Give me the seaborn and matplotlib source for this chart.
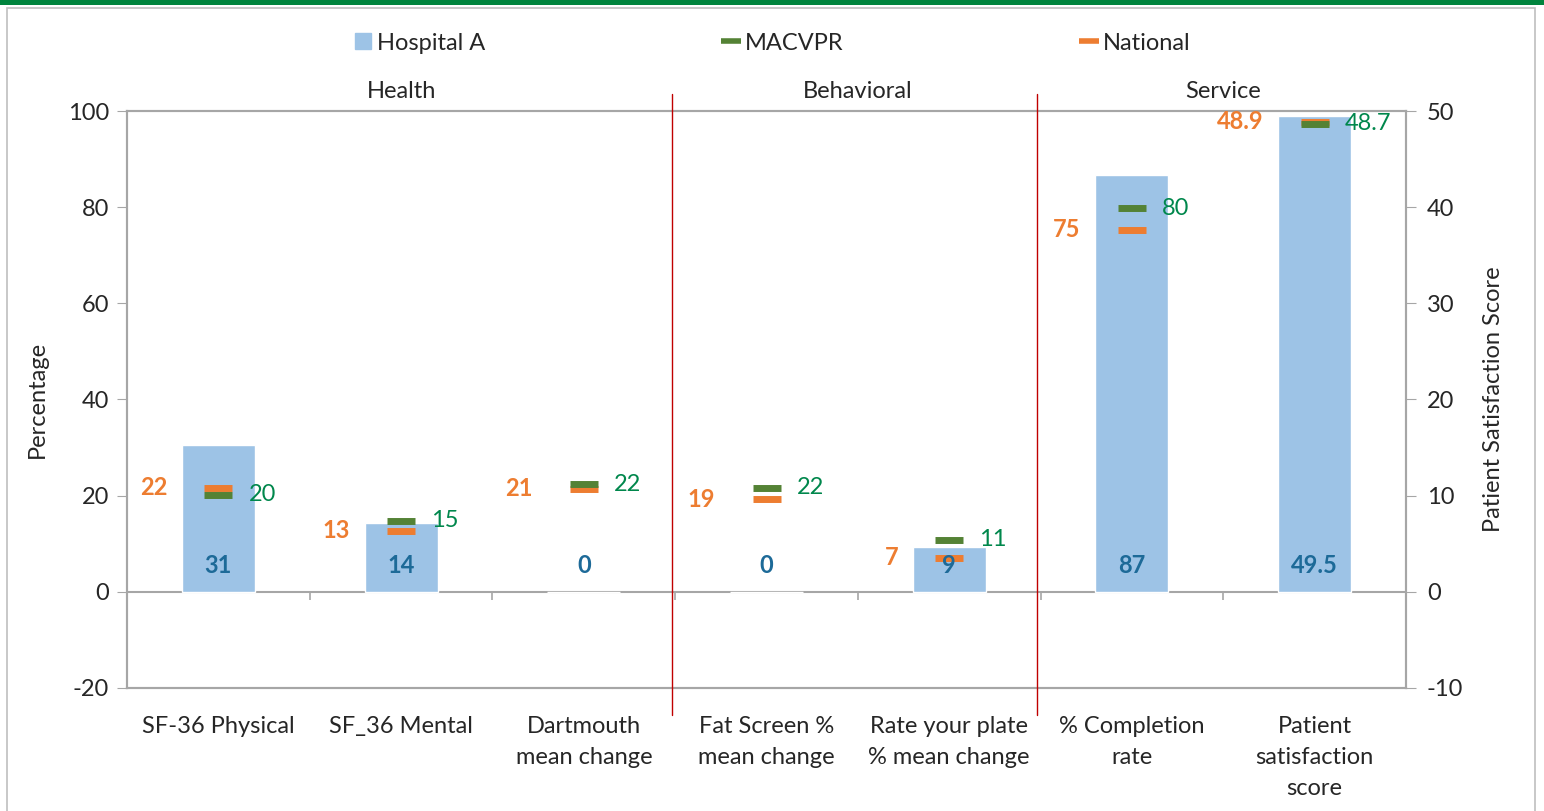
import numpy as np
import pandas as pd
import seaborn as sns
import matplotlib.pyplot as plt
from matplotlib.lines import Line2D
from matplotlib.patches import Rectangle
import matplotlib.transforms as mtransforms

# Data
categories = ["SF-36 Physical", "SF_36 Mental", "Dartmouth\nmean change",
              "Fat Screen %\nmean change", "Rate your plate\n% mean change",
              "% Completion\nrate", "Patient\nsatisfaction\nscore"]
groups = ["Health", "Health", "Health", "Behavioral", "Behavioral", "Service", "Service"]

# percentage series (left axis); the satisfaction score goes on the right axis
hospital_pct = [30.6, 14.3, 0, 0, 9.4, 86.7, np.nan]
macvpr_pct = [20.2, 14.8, 22.4, 21.6, 10.8, 79.8, np.nan]
national_pct = [21.6, 12.7, 21.4, 19.3, 7.1, 75.3, np.nan]
hospital_score = [np.nan] * 6 + [49.5]
macvpr_score = [np.nan] * 6 + [48.7]
national_score = [np.nan] * 6 + [48.9]

BAR = "#9DC3E6"
GREEN = "#548235"
GREEN_TXT = "#00874C"
ORANGE = "#ED7D31"
BLUE_TXT = "#1D6A98"
GRAY = "#A6A6A6"

sns.set_style("white")
plt.rcParams["font.family"] = ["Lato", "DejaVu Sans"]
plt.rcParams["font.size"] = 17
plt.rcParams["axes.unicode_minus"] = False

fig = plt.figure(figsize=(15.44, 8.11), dpi=100)
ax = fig.add_axes([0.0823, 0.1517, 0.8283, 0.7114])
ax2 = ax.twinx()

x = np.arange(len(categories))
df = pd.DataFrame({"cat": categories, "pct": hospital_pct, "score": hospital_score})

sns.barplot(data=df, x="cat", y="pct", order=categories, color=BAR, width=0.4,
            saturation=1, ax=ax, zorder=2)
sns.barplot(data=df, x="cat", y="score", order=categories, color=BAR, width=0.4,
            saturation=1, ax=ax2, zorder=2)

for a, nat, mac in [(ax, national_pct, macvpr_pct), (ax2, national_score, macvpr_score)]:
    sns.scatterplot(x=x, y=nat, marker="_", s=400, linewidth=5, color=ORANGE, ax=a, zorder=3)
    sns.scatterplot(x=x, y=mac, marker="_", s=400, linewidth=5, color=GREEN, ax=a, zorder=4)

ax.set_ylim(-20, 100)
ax2.set_ylim(-10, 50)
ax.set_xlim(-0.5, len(categories) - 0.5)
ax.set_yticks(np.arange(-20, 101, 20))
ax2.set_yticks(np.arange(-10, 51, 10))
ax.set_xticks(x)
ax.set_xticklabels(categories, linespacing=1.6)
ax.tick_params(axis="x", length=0, pad=20)
ax.tick_params(axis="y", left=True, length=7, color=GRAY, pad=6)
ax2.tick_params(axis="y", right=True, length=7, color=GRAY, pad=8)
ax.set_xlabel("")
ax.set_ylabel("Percentage", labelpad=14)
ax2.set_ylabel("Patient Satisfaction Score", labelpad=14)
for a in (ax, ax2):
    for sp in a.spines.values():
        sp.set_color(GRAY)
        sp.set_linewidth(1.5)

# zero line and boundary ticks
ax.axhline(0, color=GRAY, lw=1.5, zorder=1)
ax.vlines(x[:-1] + 0.5, -1.7, 0, color=GRAY, lw=1.2)

# value labels
for i in x:
    if np.isnan(hospital_pct[i]):
        a, h, m, nv, fmt = ax2, hospital_score[i], macvpr_score[i], national_score[i], "{:.1f}"
    else:
        a, h, m, nv, fmt = ax, hospital_pct[i], macvpr_pct[i], national_pct[i], "{:.0f}"
    ax2.text(i, 5.4, fmt.format(h), transform=ax.transData, ha="center", va="center",
             color=BLUE_TXT, fontweight="bold", zorder=5)
    a.text(i + 0.165, m, fmt.format(m), ha="left", va="center", color=GREEN_TXT, zorder=5)
    a.text(i - 0.28, nv, fmt.format(nv), ha="right", va="center", color=ORANGE,
           fontweight="bold", zorder=5)

# group separators and titles
trans = mtransforms.blended_transform_factory(ax.transData, ax.transAxes)
names = list(dict.fromkeys(groups))
for k, g in enumerate(names):
    idx = [i for i, gg in enumerate(groups) if gg == g]
    ax2.text(np.mean(idx), 1.033, g, transform=trans, ha="center", va="center",
             bbox=dict(facecolor="white", edgecolor="none", pad=2))
    if k > 0:
        ax2.axvline(idx[0] - 0.52, ymin=-0.047, ymax=1.03, color="#C00000", lw=1,
                    clip_on=False, zorder=6)

# legend
handles = [Line2D([], [], marker="s", color=BAR, linestyle="none", markersize=11),
           Line2D([], [], marker="_", color=GREEN, linestyle="none", markersize=15, markeredgewidth=4),
           Line2D([], [], marker="_", color=ORANGE, linestyle="none", markersize=15, markeredgewidth=4)]
fig.legend(handles, ["Hospital A", "MACVPR", "National"], loc="center",
           bbox_to_anchor=(0.5, 1 - 43 / 811), ncol=3, frameon=False,
           handlelength=0.8, handletextpad=0.2, columnspacing=10)

# frame around the figure
fig.patches.append(Rectangle((7 / 1544, -0.01), 1528 / 1544, 1.0, transform=fig.transFigure,
                             fill=False, edgecolor="#BFBFBF", lw=1.2))
fig.patches.append(Rectangle((0, 1 - 5 / 811), 1, 5 / 811, transform=fig.transFigure,
                             facecolor="#00843D", edgecolor="none"))

fig.savefig("out.png", dpi=100)
